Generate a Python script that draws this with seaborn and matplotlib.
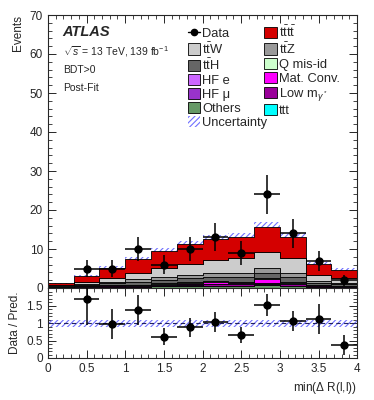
import numpy as np
import pandas as pd
import matplotlib
matplotlib.use("Agg")
import matplotlib.pyplot as plt
from matplotlib.patches import Patch
from matplotlib.lines import Line2D
from matplotlib.ticker import MultipleLocator, FormatStrFormatter
import seaborn as sns

# binning of min(dR(l,l))
edges = np.linspace(0, 4, 13)
centers = 0.5 * (edges[1:] + edges[:-1])

# post-fit predictions per bin
others = [0.10, 0.20, 0.30, 0.35, 0.55, 0.60, 0.60, 0.60, 0.65, 0.60, 0.35, 0.30]
ttt = [0.00, 0.01, 0.02, 0.03, 0.03, 0.04, 0.04, 0.04, 0.05, 0.04, 0.03, 0.02]
low_mgamma = [0.10, 0.05, 0.10, 0.10, 0.15, 0.25, 0.30, 0.35, 0.40, 0.35, 0.10, 0.05]
hf_mu = [0.05, 0.10, 0.10, 0.10, 0.15, 0.10, 0.10, 0.10, 0.10, 0.10, 0.05, 0.05]
hf_e = [0.05, 0.05, 0.10, 0.10, 0.10, 0.10, 0.10, 0.10, 0.10, 0.10, 0.05, 0.05]
mat_conv = [0.05, 0.05, 0.05, 0.10, 0.10, 0.25, 0.45, 0.30, 0.90, 0.20, 0.10, 0.05]
q_misid = [0.02, 0.05, 0.05, 0.10, 0.10, 0.15, 0.15, 0.15, 0.30, 0.25, 0.10, 0.05]
tth = [0.10, 0.25, 0.45, 0.70, 0.90, 1.00, 1.10, 1.10, 1.40, 1.20, 0.50, 0.40]
ttz = [0.08, 0.25, 0.45, 0.60, 0.80, 0.90, 1.00, 1.00, 1.30, 1.10, 0.40, 0.35]
ttw = [0.15, 0.50, 1.00, 1.70, 2.30, 2.80, 3.35, 3.95, 4.00, 3.65, 1.60, 1.30]
tttt = [0.50, 1.50, 2.50, 3.50, 4.30, 5.00, 5.50, 5.40, 6.40, 5.50, 3.00, 2.10]
uncert = [0.10, 0.25, 0.40, 0.55, 0.75, 0.85, 0.95, 1.00, 1.25, 1.05, 0.50, 0.40]

# data (first bin empty)
data_x = centers[1:]
data_y = [5, 5, 10, 6, 10, 13, 9, 24, 14, 7, 2]
data_err = [2.2, 2.2, 3.2, 2.4, 3.2, 3.6, 3.0, 4.9, 3.7, 2.6, 1.4]

ratio_y = [1.69, 0.97, 1.37, 0.61, 0.88, 1.03, 0.66, 1.52, 1.06, 1.11, 0.38]
ratio_err = [0.75, 0.43, 0.43, 0.25, 0.27, 0.29, 0.22, 0.31, 0.29, 0.42, 0.28]

# top of the stack first
procs = [
    (r"$\mathrm{t\bar{t}t\bar{t}}$", tttt, "#d40000"),
    (r"$\mathrm{t\bar{t}W}$", ttw, "#cccccc"),
    (r"$\mathrm{t\bar{t}Z}$", ttz, "#999999"),
    (r"$\mathrm{t\bar{t}H}$", tth, "#666666"),
    ("Q mis-id", q_misid, "#ccffcc"),
    ("Mat. Conv.", mat_conv, "#ff00ff"),
    ("HF e", hf_e, "#cc66ff"),
    ("HF \u03bc", hf_mu, "#9933cc"),
    (r"Low m$_{\gamma^*}$", low_mgamma, "#990099"),
    ("ttt", ttt, "#00ffff"),
    ("Others", others, "#669966"),
]
names = [p[0] for p in procs]

sns.set_style("ticks")
plt.rcParams["font.family"] = ["Liberation Sans", "DejaVu Sans"]
plt.rcParams["mathtext.fontset"] = "custom"
plt.rcParams["mathtext.rm"] = "Liberation Sans"
plt.rcParams["mathtext.it"] = "Liberation Sans:italic"
plt.rcParams["hatch.linewidth"] = 0.8
plt.rcParams["hatch.color"] = "#7070ff"

rows = []
for name, vals, _ in procs:
    for c, v in zip(centers, vals):
        rows.append({"x": c, "w": v, "proc": name})
df = pd.DataFrame(rows)

fig = plt.figure(figsize=(3.74, 4.0), dpi=100)
ax = fig.add_axes([0.128, 0.28, 0.827, 0.6825])
rax = fig.add_axes([0.128, 0.105, 0.827, 0.175], sharex=ax)

total = np.sum([p[1] for p in procs], axis=0)

# uncertainty band (behind the stack)
lo = np.append(total - uncert, (total - uncert)[-1])
hi = np.append(total + uncert, (total + uncert)[-1])
ax.fill_between(edges, lo, hi, step="post", facecolor="none", edgecolor="#7070ff",
                hatch="//////", linewidth=0, zorder=1)

sns.histplot(data=df, x="x", weights="w", hue="proc", binwidth=1 / 3, binrange=(0, 4),
             hue_order=names, palette=[p[2] for p in procs],
             multiple="stack", element="step", alpha=1, edgecolor="black",
             linewidth=0.6, legend=False, ax=ax, zorder=2)

ax.errorbar(data_x, data_y, yerr=data_err, xerr=1 / 6, fmt="o", color="black",
            ms=5, elinewidth=1.1, capsize=0, zorder=5)

ax.set_xlim(0, 4)
ax.set_ylim(0, 70)
ax.set_xlabel("")
ax.set_ylabel("Events", loc="top", fontsize=8.5)
ax.yaxis.set_major_locator(MultipleLocator(10))
ax.yaxis.set_minor_locator(MultipleLocator(2))
ax.xaxis.set_major_locator(MultipleLocator(0.5))
ax.xaxis.set_minor_locator(MultipleLocator(0.1))
plt.setp(ax.get_xticklabels(), visible=False)

# ratio panel
rax.fill_between([0, 4], [0.9, 0.9], [1.1, 1.1], facecolor="none", edgecolor="#7070ff",
                 hatch="//////", linewidth=0, zorder=1)
rax.axhline(1.0, color="#202060", lw=0.8, ls=(0, (4, 3)), zorder=2)
rax.errorbar(data_x, ratio_y, yerr=ratio_err, xerr=1 / 6, fmt="o", color="black",
             ms=5, elinewidth=1.1, capsize=0, zorder=5)
rax.set_ylim(0, 2)
rax.set_yticks([0, 0.5, 1, 1.5])
rax.yaxis.set_major_formatter(FormatStrFormatter("%g"))
rax.xaxis.set_major_formatter(FormatStrFormatter("%g"))
rax.yaxis.set_minor_locator(MultipleLocator(0.1))
rax.set_ylabel("Data / Pred.", fontsize=8.5)
rax.set_xlabel(r"min($\Delta$ R(l,l))", loc="right", fontsize=8.5)

for a in (ax, rax):
    a.tick_params(which="both", direction="in", top=True, right=True, labelsize=8.5)
    a.tick_params(which="major", length=5.5, width=0.7)
    a.tick_params(which="minor", length=3, width=0.6)
    for s in a.spines.values():
        s.set_linewidth(0.8)

# labels
ax.text(0.048, 0.938, "ATLAS", transform=ax.transAxes, fontsize=10.5,
        fontweight="bold", fontstyle="italic", va="center")
ax.text(0.048, 0.866, r"$\sqrt{s}$ = 13 TeV, 139 fb$^{-1}$", transform=ax.transAxes,
        fontsize=7.5, va="center")
ax.text(0.048, 0.799, "BDT>0", transform=ax.transAxes, fontsize=7.5, va="center")
ax.text(0.048, 0.733, "Post-Fit", transform=ax.transAxes, fontsize=7.5, va="center")

# legend, column-wise like the original
handles = {name: Patch(facecolor=col, edgecolor="black", linewidth=0.6) for name, _, col in procs}
data_h = Line2D([], [], color="black", marker="o", ms=4.5, lw=1.0)
unc_h = Patch(facecolor="white", edgecolor="#7070ff", hatch="//////", linewidth=0)
left_col = ["Data", names[1], names[3], "HF e", "HF \u03bc", "Others", "Uncertainty"]
right_col = [names[0], names[2], "Q mis-id", "Mat. Conv.", names[8], "ttt"]
extra = {"Data": data_h, "Uncertainty": unc_h}
labels = left_col + right_col
ax.legend([extra.get(l, handles.get(l)) for l in labels], labels, ncol=2,
          loc="upper left", bbox_to_anchor=(0.452, 0.965), frameon=False,
          fontsize=9.3, handlelength=0.95, handleheight=0.95, handletextpad=0.15,
          labelspacing=0.08, columnspacing=-0.2, borderpad=0, borderaxespad=0)

fig.savefig("out.png", dpi=100)
